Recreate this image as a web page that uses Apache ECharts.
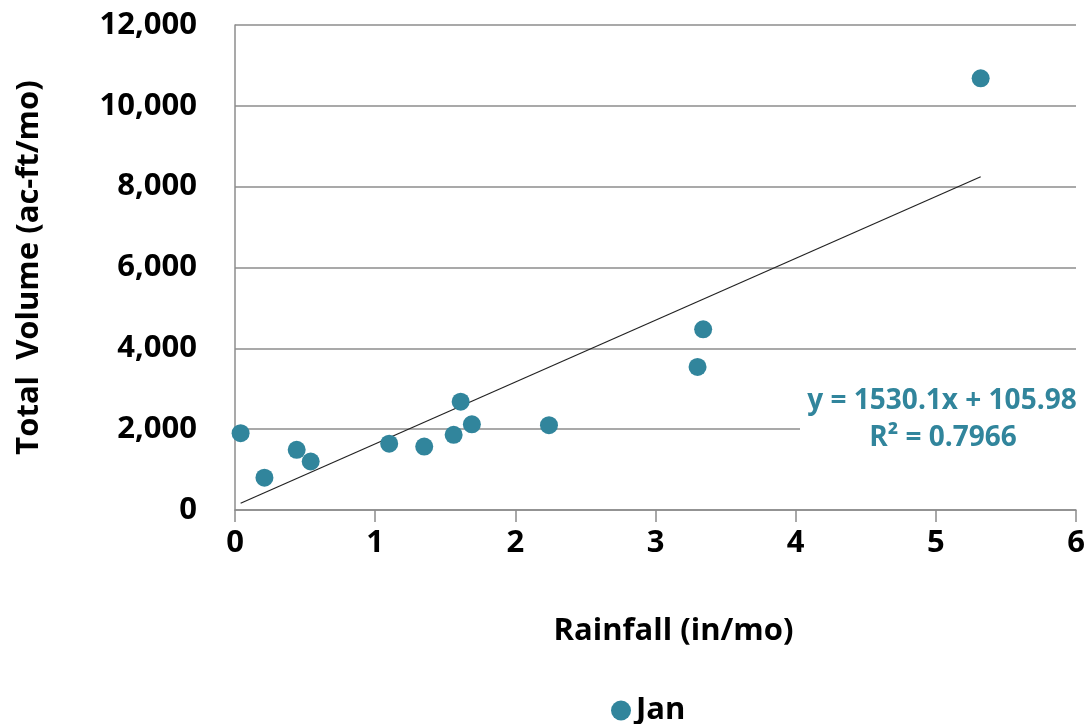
<!DOCTYPE html>
<html><head><meta charset="utf-8">
<script src="https://cdn.jsdelivr.net/npm/echarts@6/dist/echarts.min.js"></script>
<style>html,body{margin:0;padding:0;background:#fff}#c{width:1088px;height:724px}</style>
</head><body><div id="c"></div>
<script>
const rainfall = [0.04, 0.21, 0.44, 0.54, 1.10, 1.35, 1.56, 1.61, 1.69, 2.24, 3.30, 3.34, 5.32];
const volume   = [1900, 800, 1490, 1200, 1640, 1570, 1860, 2680, 2120, 2100, 3540, 4470, 10680];
const trendX = [0.04, 5.32];
const trendY = [167, 8246];
const yTicks = [0, 2000, 4000, 6000, 8000, 10000, 12000];
const eqText = 'y = 1530.1x + 105.98';
const r2Text = 'R² = 0.7966';

const FONT = '"Open Sans", "Noto Sans", sans-serif';
const TEAL = '#31859c';
const chart = echarts.init(document.getElementById('c'), null, {renderer: 'canvas'});
chart.setOption({
  animation: false,
  backgroundColor: '#fff',
  grid: {left: 235, right: 12, top: 25, bottom: 214},
  xAxis: {
    type: 'value', min: 0, max: 6, interval: 1,
    name: 'Rainfall (in/mo)', nameLocation: 'middle', nameGap: 106,
    nameTextStyle: {fontFamily: FONT, fontWeight: 'bold', fontSize: 31, color: '#000', padding: [0, 0, 0, 36]},
    axisLine: {show: true, lineStyle: {color: '#8c8c8c', width: 1.5}},
    axisTick: {show: true, length: 12, lineStyle: {color: '#8c8c8c', width: 1.5}},
    axisLabel: {fontFamily: FONT, fontWeight: 'bold', fontSize: 31, color: '#000', margin: 18},
    splitLine: {show: false}
  },
  yAxis: {
    type: 'value', min: yTicks[0], max: yTicks[yTicks.length-1], interval: 2000,
    name: 'Total  Volume (ac-ft/mo)', nameLocation: 'middle', nameGap: 190,
    nameTextStyle: {fontFamily: FONT, fontWeight: 'bold', fontSize: 31, color: '#000'},
    axisLine: {show: true, lineStyle: {color: '#8c8c8c', width: 1.5}},
    axisTick: {show: false},
    axisLabel: {fontFamily: FONT, fontWeight: 'bold', fontSize: 31, color: '#000', margin: 38,
      formatter: v => v.toLocaleString('en-US')},
    splitLine: {show: true, lineStyle: {color: '#8c8c8c', width: 1.5}}
  },
  legend: {
    bottom: -7, left: 606, itemWidth: 20, itemHeight: 20, itemGap: 8, icon: 'circle',
    data: ['Jan'],
    textStyle: {fontFamily: FONT, fontWeight: 'bold', fontSize: 31, color: '#000'}
  },
  graphic: [
    {type: 'rect', shape: {x: 800, y: 380, width: 277, height: 76}, style: {fill: '#fff'}, z: 1},
    {type: 'text', x: 942, y: 401, z: 2,
      style: {text: eqText, fontFamily: FONT, fontWeight: 'bold', fontSize: 28, fill: TEAL, align: 'center', verticalAlign: 'middle'}},
    {type: 'text', x: 943, y: 438, z: 2,
      style: {text: r2Text, fontFamily: FONT, fontWeight: 'bold', fontSize: 28, fill: TEAL, align: 'center', verticalAlign: 'middle'}}
  ],
  series: [
    {
      name: 'Trend', type: 'line', data: trendX.map((x, i) => [x, trendY[i]]),
      showSymbol: false, symbol: 'none', lineStyle: {color: '#222', width: 1.2}, z: 3, silent: true
    },
    {
      name: 'Jan', type: 'scatter', data: rainfall.map((x, i) => [x, volume[i]]),
      symbolSize: 18, itemStyle: {color: TEAL, opacity: 1}, z: 4
    }
  ]
});
</script></body></html>
